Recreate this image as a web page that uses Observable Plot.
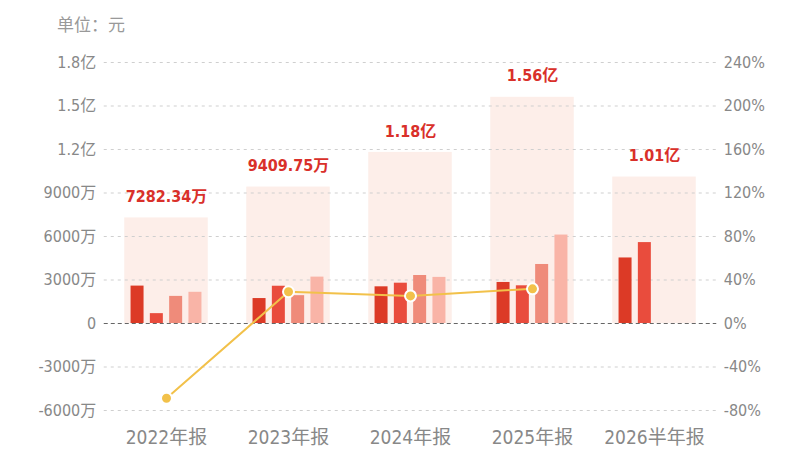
<!DOCTYPE html>
<html>
<head>
<meta charset="utf-8">
<script src="https://cdn.jsdelivr.net/npm/d3@7"></script>
<script src="https://cdn.jsdelivr.net/npm/@observablehq/plot@0.6"></script>
<style>
  body { margin: 0; background: #fff; }
  #wrap { position: relative; width: 800px; height: 450px; overflow: hidden; }
  #unit { position: absolute; left: 57px; top: 15px; font: 17px/1 "Noto Sans CJK SC", sans-serif; color: #999; }
  svg { font-family: "DejaVu Sans Condensed", "DejaVu Sans", "Noto Sans CJK SC", sans-serif; font-stretch: condensed; }
</style>
</head>
<body>
<div id="wrap"><div id="unit">单位：元</div></div>
<script>
// Data (values in 万元)
const periods = ["2022年报", "2023年报", "2024年报", "2025年报", "2026半年报"];
const totals = [7282.34, 9409.75, 11800, 15600, 10100];
const totalLabels = ["7282.34万", "9409.75万", "1.18亿", "1.56亿", "1.01亿"];
const q1 = [2580, 1720, 2530, 2830, 4520];
const q2 = [680, 2570, 2780, 2600, 5580];
const q3 = [1870, 1920, 3310, 4070, null];
const q4 = [2152, 3200, 3180, 6100, null];
const growth = [-68.7, 29.2, 25.4, 31.9, null]; // 同比增长 %
const leftTicks = [-6000, -3000, 0, 3000, 6000, 9000, 12000, 15000, 18000];
const rightTicks = [-80, -40, 0, 40, 80, 120, 160, 200, 240];

const ratio = 3000 / 40; // 万 per percentage point (axes aligned)

const totalData = periods.map((p, i) => ({p, v: totals[i], label: totalLabels[i]}));
const quarters = [q1, q2, q3, q4];
const qColors = ["#dc3a26", "#e94c3d", "#ef8b7a", "#f9b4a7"];
const growthData = periods.map((p, i) => ({p, g: growth[i]})).filter(d => d.g != null);

const step = 122.5, barW = 13.5, gap = 19.3, bgW = 84;

const fmtLeft = v => v === 0 ? "0" : Math.abs(v) < 10000 ? `${v}万` : `${(v / 10000).toFixed(1)}亿`;

const marks = [
  // background total bars (soft)
  Plot.barY(totalData, {x: "p", y: "v", fill: "#fdeee9", insetLeft: (step - bgW) / 2, insetRight: (step - bgW) / 2,
    style: {filter: "blur(1.5px)"}}),
  // gridlines
  Plot.gridY(leftTicks.filter(t => t !== 0), {stroke: "#cfcfcf", strokeOpacity: 1, strokeDasharray: "3,4"}),
  Plot.ruleY([0], {stroke: "#666", strokeDasharray: "4,3"}),
];
quarters.forEach((arr, qi) => {
  const data = periods.map((p, i) => ({p, v: arr[i]})).filter(d => d.v != null);
  const left = step / 2 + (qi - 1.5) * gap - barW / 2;
  marks.push(Plot.barY(data, {x: "p", y: "v", fill: qColors[qi], insetLeft: left, insetRight: step - left - barW}));
});
marks.push(
  Plot.line(growthData, {x: "p", y: d => d.g * ratio, stroke: "#f2c14a", strokeWidth: 2}),
  Plot.dot(growthData, {x: "p", y: d => d.g * ratio, r: 5.5, fill: "#f2c14a", stroke: "#fff", strokeWidth: 2}),
  Plot.text(totalData, {x: "p", y: "v", text: "label", dy: -21, fill: "#d9302a", fontSize: 16, fontWeight: "bold"}),
  Plot.axisY(leftTicks, {anchor: "left", tickSize: 0, tickPadding: 8, tickFormat: fmtLeft, fontSize: 16, color: "#888"}),
  Plot.axisY(rightTicks.map(t => t * ratio), {anchor: "right", tickSize: 0, tickPadding: 7, tickFormat: v => `${Math.round(v / ratio)}%`, fontSize: 16, color: "#888"}),
  Plot.axisX({tickSize: 0, tickPadding: 20, fontSize: 19, color: "#888"})
);

const chart = Plot.plot({
  width: 800,
  height: 450,
  marginTop: 62,
  marginBottom: 40,
  marginLeft: 103.75,
  marginRight: 83.75,
  x: {type: "band", domain: periods, padding: 0, label: null},
  y: {domain: [-6000, 18000], label: null},
  style: {background: "transparent", overflow: "visible"},
  marks
});
document.getElementById("wrap").appendChild(chart);
</script>
</body>
</html>
